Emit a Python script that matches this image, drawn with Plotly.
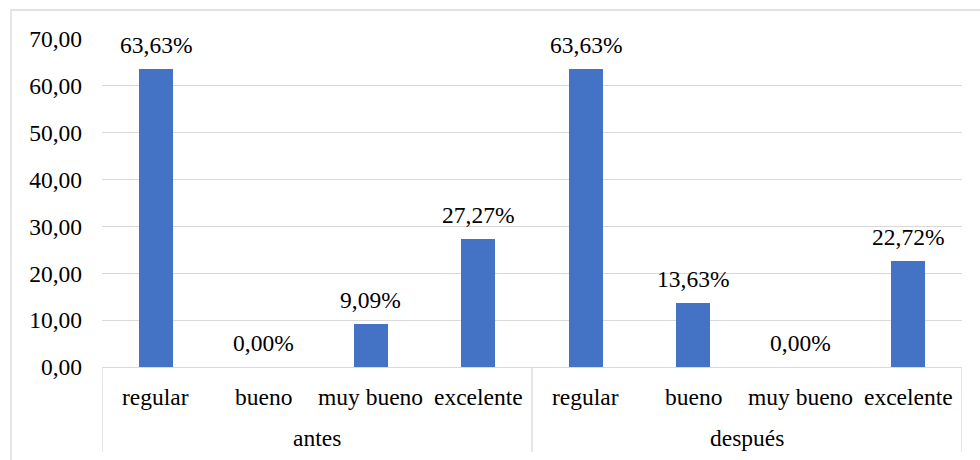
import plotly.graph_objects as go

# Evaluation periods and rating categories
groups = ["antes", "después"]
categories = ["regular", "bueno", "muy bueno", "excelente"]

# Percentage of participants in each category
antes_values = [63.63, 0.00, 9.09, 27.27]
despues_values = [63.63, 13.63, 0.00, 22.72]

y_tick_values = [0, 10, 20, 30, 40, 50, 60, 70]
y_tick_labels = ["0,00", "10,00", "20,00", "30,00", "40,00", "50,00", "60,00", "70,00"]

values = antes_values + despues_values
labels = categories + categories
x_pos = list(range(len(values)))

FONT = "Liberation Serif, Times New Roman, serif"
FS = 23.5
BAR = "#4472C4"
GRID = "#D9D9D9"

fig = go.Figure()
fig.add_trace(go.Bar(
    x=x_pos, y=values, width=0.313,
    marker=dict(color=BAR, line=dict(width=0)),
    hoverinfo="skip",
))

annotations = []
# value labels above the bars
for xp, v in zip(x_pos, values):
    annotations.append(dict(
        x=xp, y=v, xref="x", yref="y",
        text=f"{v:.2f}".replace(".", ",") + "%",
        showarrow=False, yanchor="middle", yshift=24,
        font=dict(family=FONT, size=FS, color="#000000"),
    ))
# category labels
for xp, lab in zip(x_pos, labels):
    annotations.append(dict(
        x=xp, y=-0.091, xref="x", yref="paper",
        text=lab, showarrow=False, yanchor="middle",
        font=dict(family=FONT, size=FS, color="#000000"),
    ))
# group labels
n = len(categories)
for gi, g in enumerate(groups):
    annotations.append(dict(
        x=gi * n + (n - 1) / 2, y=-0.215, xref="x", yref="paper",
        text=g, showarrow=False, yanchor="middle",
        font=dict(family=FONT, size=FS, color="#000000"),
    ))

shapes = []
# group dividers below the axis
for xv in [-0.5, n - 0.5, 2 * n - 0.5]:
    shapes.append(dict(
        type="line", xref="x", yref="paper",
        x0=xv, x1=xv, y0=0, y1=-0.259,
        line=dict(color=GRID, width=1.3),
    ))
# chart frame
shapes.append(dict(
    type="rect", xref="paper", yref="paper",
    x0=-0.1058, x1=1.2, y0=-0.4, y1=1.0884,
    line=dict(color=GRID, width=1.3), layer="below",
))

fig.update_layout(
    width=980, height=460,
    margin=dict(l=102, r=18, t=39, b=93),
    paper_bgcolor="white", plot_bgcolor="white",
    showlegend=False,
    bargap=0,
    annotations=annotations,
    shapes=shapes,
    font=dict(family=FONT, size=FS, color="#000000"),
    xaxis=dict(
        range=[-0.5, len(values) - 0.5],
        showticklabels=False, showgrid=False, zeroline=False,
        showline=True, linecolor=GRID, linewidth=1.3, ticks="",
    ),
    yaxis=dict(
        range=[0, 70],
        tickvals=y_tick_values, ticktext=y_tick_labels,
        tickfont=dict(family=FONT, size=FS, color="#000000"),
        showgrid=True, gridcolor=GRID, gridwidth=1.3,
        zeroline=False, showline=False, ticks="",
        ticklabelstandoff=19,
    ),
)

fig.write_html("out.html")
